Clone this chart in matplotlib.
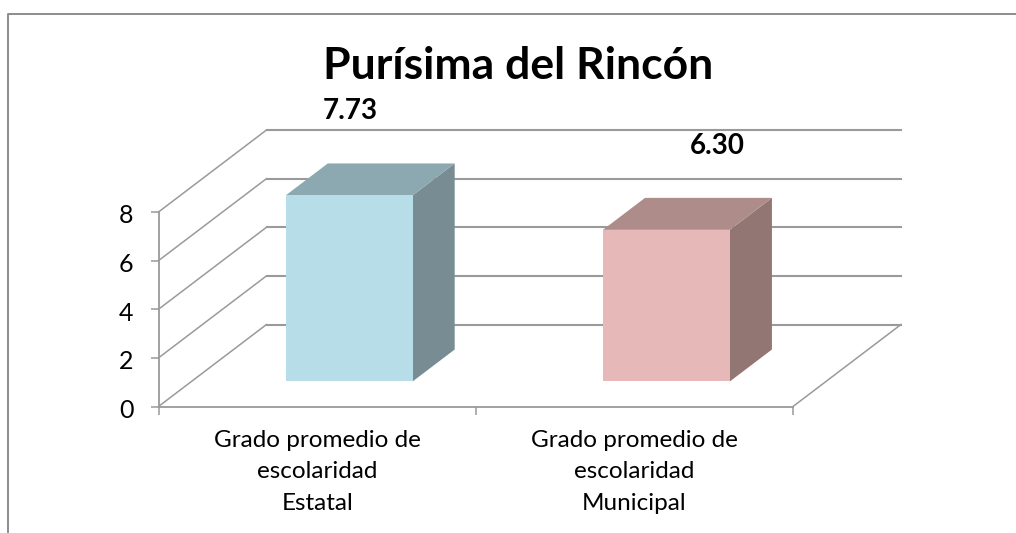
import matplotlib
matplotlib.use("Agg")
import matplotlib.pyplot as plt
from matplotlib.lines import Line2D
from matplotlib.transforms import Affine2D

plt.rcParams['font.family'] = ['Lato', 'DejaVu Sans']

# Datos de la grafica
categorias = ["Grado promedio de\nescolaridad\nEstatal", "Grado promedio de\nescolaridad\nMunicipal"]
valores = [7.73, 6.30]
etiquetas = ["7.73", "6.30"]
marcas_y = [0, 2, 4, 6, 8]
titulo = "Purísima del Rincón"

# Colores de cada barra: frente, tapa y costado
color_frente = ["#B7DDE8", "#E6B8B7"]
color_tapa = ["#8CA8B0", "#AD8C8A"]
color_lado = ["#778C93", "#927674"]
color_linea = "#9A9A9A"

# Desplazamiento de las etiquetas respecto a la barra, en puntos
offset_etiquetas = [(1, 61), (36.5, 60.5)]

W, H = 1016, 533
fig = plt.figure(figsize=(W / 100, H / 100), dpi=100)

# Plano frontal de la grafica, en pixeles de la figura
izq, der, abajo, arriba = 158.5, 793, 406.5, 212
ax = fig.add_axes([izq / W, 1 - abajo / H, (der - izq) / W, (abajo - arriba) / H])
ax.set_xlim(0, 2)
ax.set_ylim(0, 8)
ax.patch.set_alpha(0)

# Profundidad 3D: cuanto se corre en datos al pasar del frente al fondo
prof_x = 108 / ((der - izq) / 2)
prof_y = 82 / ((abajo - arriba) / 8)


def en_prof(x, y, d):
    return x + d * prof_x, y + d * prof_y


# Paredes del fondo y lineas de division
for v in marcas_y:
    xa, ya = en_prof(0, v, 1)
    xb, yb = en_prof(2, v, 1)
    ax.plot([xa, xb], [ya, yb], color=color_linea, lw=1.5, clip_on=False, zorder=1)
    ax.plot([0, xa], [v, ya], color=color_linea, lw=1.1, clip_on=False, zorder=1)
x_fin, y_fin = en_prof(2, 0, 1)
ax.plot([2, x_fin], [0, y_fin], color=color_linea, lw=1.1, clip_on=False, zorder=1)

# Barras 3D
ancho = 0.4
d1, d2 = 0.305, 0.695
escala = 0.99
for i, valor in enumerate(valores):
    x0 = i + 0.497 - ancho / 2
    x1 = i + 0.497 + ancho / 2
    alto = valor * escala
    a = en_prof(x0, 0, d1)
    b = en_prof(x1, 0, d1)
    c = en_prof(x1, alto, d1)
    e = en_prof(x0, alto, d1)
    f = en_prof(x1, 0, d2)
    g = en_prof(x1, alto, d2)
    h = en_prof(x0, alto, d2)
    ax.fill(*zip(b, f, g, c), color=color_lado[i], lw=0, clip_on=False, zorder=3)
    ax.fill(*zip(e, c, g, h), color=color_tapa[i], lw=0, clip_on=False, zorder=3)
    ax.fill(*zip(a, b, c, e), color=color_frente[i], lw=0, clip_on=False, zorder=3)
    ax.annotate(etiquetas[i], xy=((a[0] + b[0]) / 2, e[1]), xytext=offset_etiquetas[i],
                textcoords='offset points', ha='center', va='center',
                fontsize=20, fontweight='bold', color='black', annotation_clip=False, zorder=5)

# Ejes
for lado in ['top', 'right']:
    ax.spines[lado].set_visible(False)
for lado in ['left', 'bottom']:
    ax.spines[lado].set_color(color_linea)
    ax.spines[lado].set_linewidth(1.3)
ax.set_yticks(marcas_y)
ax.set_xticks([0, 1, 2])
ax.set_xticklabels([])
ax.set_xticks([0.5, 1.5], minor=True)
ax.set_xticklabels(categorias, minor=True, fontsize=17.5, linespacing=1.6)
ax.tick_params(axis='y', length=6, width=1.1, color=color_linea, pad=12, labelsize=18)
ax.tick_params(axis='x', which='major', length=6, width=1.1, color=color_linea)
ax.tick_params(axis='x', which='minor', length=0, pad=17)
for etq in ax.get_yticklabels():
    etq.set_transform(etq.get_transform() + Affine2D().translate(0, -2))

fig.text(518.5 / W, 1 - 66 / H, titulo, fontsize=32, fontweight='bold', ha='center', va='center')

# Marco de la grafica: solo arriba y a la izquierda
fig.add_artist(Line2D([8 / W, 8 / W, 1], [0, 1 - 14 / H, 1 - 14 / H], color="#8C8C8C", lw=1.4))

fig.savefig("out.png", dpi=100)
